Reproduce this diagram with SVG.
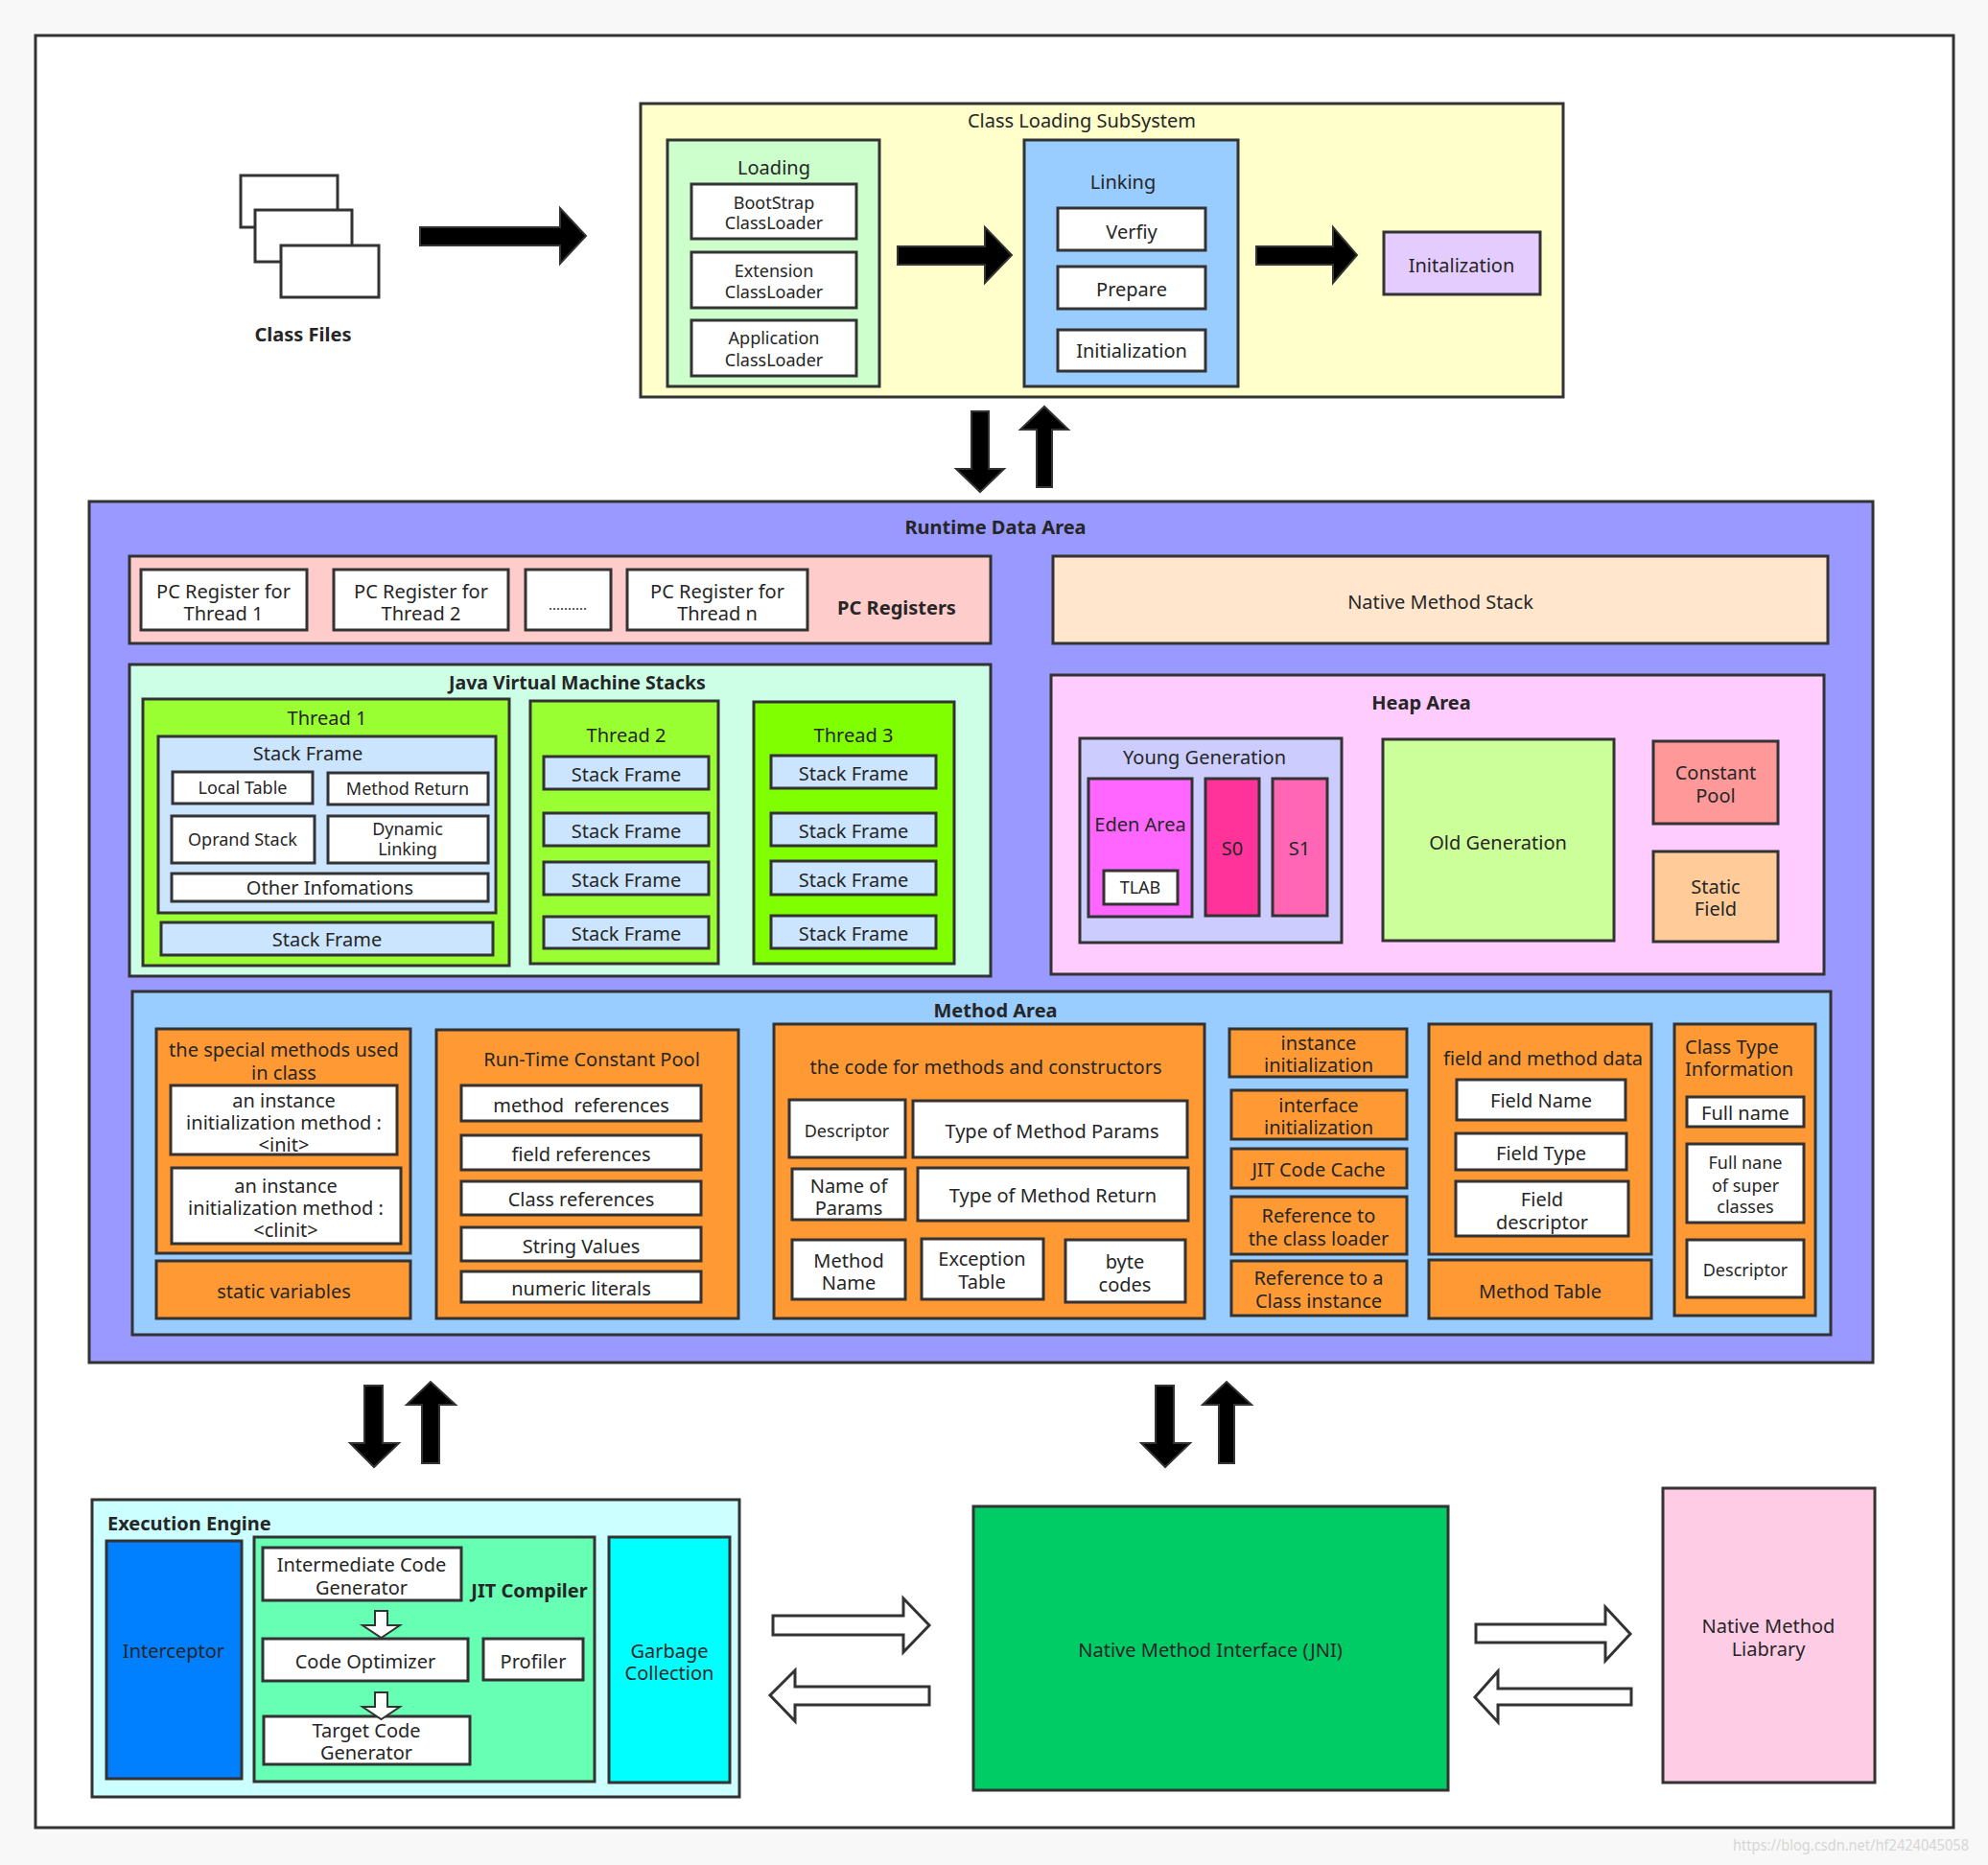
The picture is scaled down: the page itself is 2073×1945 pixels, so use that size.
<svg xmlns="http://www.w3.org/2000/svg" width="2073" height="1945" viewBox="0 0 2073 1945">
<style>
rect.b{stroke:#333;stroke-width:3}
text{font-family:"Noto Sans","Open Sans","DejaVu Sans",sans-serif;font-size:20px;fill:#262626;text-anchor:middle}
text.s{font-size:18px}
text.h{font-weight:bold}
text.l{text-anchor:start}
.ba{fill:#000;stroke:#333;stroke-width:2}
.ha{fill:#fff;stroke:#333;stroke-width:3}
.w{fill:#fff}
</style>
<rect x="0" y="0" width="2073" height="1945" fill="#f8f8f8"/>
<rect x="37" y="37" width="2000" height="1869" fill="#fff" stroke="#333" stroke-width="3"/>

<g id="class-files">
<rect class="b w" x="251" y="183" width="101" height="54"/>
<rect class="b w" x="266" y="219" width="101" height="54"/>
<rect class="b w" x="293" y="256" width="102" height="54"/>
<text class="h" x="316" y="356">Class Files</text>
</g>

<g id="class-loading-subsystem">
<rect class="b" x="668" y="108" width="962" height="306" fill="#ffffcc"/>
<text x="1128" y="133">Class Loading SubSystem</text>
</g>
<g id="loading">
<rect class="b" x="696" y="146" width="221" height="257" fill="#ccffcc"/>
<text x="807" y="182">Loading</text>
</g>
<g id="bootstrap-loader"><rect class="b w" x="721" y="192" width="172" height="57"/><text class="s" x="807" y="218">BootStrap</text><text class="s" x="807" y="239">ClassLoader</text></g>
<g id="extension-loader"><rect class="b w" x="721" y="263" width="172" height="58"/><text class="s" x="807" y="289">Extension</text><text class="s" x="807" y="311">ClassLoader</text></g>
<g id="application-loader"><rect class="b w" x="721" y="334" width="172" height="58"/><text class="s" x="807" y="359">Application</text><text class="s" x="807" y="382">ClassLoader</text></g>
<g id="linking">
<rect class="b" x="1068" y="146" width="223" height="257" fill="#99ccff"/>
<text x="1171" y="197">Linking</text>
</g>
<g id="verify"><rect class="b w" x="1103" y="217" width="154" height="44"/><text x="1180" y="249">Verfiy</text></g>
<g id="prepare"><rect class="b w" x="1103" y="278" width="154" height="44"/><text x="1180" y="309">Prepare</text></g>
<g id="link-init"><rect class="b w" x="1103" y="344" width="154" height="43"/><text x="1180" y="373">Initialization</text></g>
<g id="initalization"><rect class="b" x="1443" y="242" width="163" height="65" fill="#e5ccff"/><text x="1524" y="284">Initalization</text></g>

<g id="runtime-data-area">
<rect class="b" x="93" y="523" width="1860" height="898" fill="#9999ff"/>
<text class="h" x="1038" y="557">Runtime Data Area</text>
</g>
<g id="pc-registers">
<rect class="b" x="135" y="580" width="898" height="91" fill="#ffcccc"/>
<text class="h" x="935" y="641">PC Registers</text>
</g>
<g id="pc1"><rect class="b w" x="147" y="594" width="173" height="63"/><text x="233" y="624">PC Register for</text><text x="233" y="647">Thread 1</text></g>
<g id="pc2"><rect class="b w" x="348" y="594" width="182" height="63"/><text x="439" y="624">PC Register for</text><text x="439" y="647">Thread 2</text></g>
<g id="pc-dots"><rect class="b w" x="548" y="594" width="89" height="63"/><text x="592" y="636" style="font-size:15px">..........</text></g>
<g id="pcn"><rect class="b w" x="654" y="594" width="188" height="63"/><text x="748" y="624">PC Register for</text><text x="748" y="647">Thread n</text></g>

<g id="native-method-stack"><rect class="b" x="1098" y="580" width="808" height="91" fill="#ffe6cc"/><text x="1502" y="635">Native Method Stack</text></g>

<g id="jvm-stacks">
<rect class="b" x="135" y="693" width="898" height="325" fill="#ccffe6"/>
<text class="h" x="602" y="719" style="font-size:19.5px">Java Virtual Machine Stacks</text>
</g>
<g id="thread1">
<rect class="b" x="149" y="729" width="382" height="278" fill="#99ff33"/>
<text x="341" y="756">Thread 1</text>
<rect class="b" x="165" y="768" width="352" height="184" fill="#cce5ff"/>
<text x="321" y="793">Stack Frame</text>
<rect class="b w" x="180" y="805" width="146" height="33"/><text class="s" x="253" y="828">Local Table</text>
<rect class="b w" x="342" y="806" width="167" height="33"/><text class="s" x="425" y="829">Method Return</text>
<rect class="b w" x="179" y="851" width="149" height="49"/><text class="s" x="253" y="882">Oprand Stack</text>
<rect class="b w" x="342" y="851" width="167" height="49"/><text class="s" x="425" y="871">Dynamic</text><text class="s" x="425" y="892">Linking</text>
<rect class="b w" x="179" y="911" width="330" height="29"/><text x="344" y="933">Other Infomations</text>
<rect class="b" x="168" y="962" width="346" height="34" fill="#cce5ff"/><text x="341" y="987">Stack Frame</text>
</g>
<g id="thread2">
<rect class="b" x="553" y="731" width="196" height="274" fill="#99ff33"/>
<text x="653" y="774">Thread 2</text>
<rect class="b" x="567" y="789" width="172" height="34" fill="#cce5ff"/><text x="653" y="815">Stack Frame</text>
<rect class="b" x="567" y="848" width="172" height="34" fill="#cce5ff"/><text x="653" y="874">Stack Frame</text>
<rect class="b" x="567" y="899" width="172" height="34" fill="#cce5ff"/><text x="653" y="925">Stack Frame</text>
<rect class="b" x="567" y="956" width="172" height="33" fill="#cce5ff"/><text x="653" y="981">Stack Frame</text>
</g>
<g id="thread3">
<rect class="b" x="786" y="732" width="209" height="273" fill="#80ff00"/>
<text x="890" y="774">Thread 3</text>
<rect class="b" x="804" y="788" width="172" height="34" fill="#cce5ff"/><text x="890" y="814">Stack Frame</text>
<rect class="b" x="804" y="848" width="172" height="34" fill="#cce5ff"/><text x="890" y="874">Stack Frame</text>
<rect class="b" x="804" y="898" width="172" height="35" fill="#cce5ff"/><text x="890" y="925">Stack Frame</text>
<rect class="b" x="804" y="955" width="172" height="34" fill="#cce5ff"/><text x="890" y="981">Stack Frame</text>
</g>

<g id="heap-area">
<rect class="b" x="1096" y="704" width="806" height="312" fill="#ffccff"/>
<text class="h" x="1482" y="740">Heap Area</text>
</g>
<g id="young-generation">
<rect class="b" x="1126" y="770" width="273" height="213" fill="#ccccff"/>
<text x="1256" y="797">Young Generation</text>
</g>
<g id="eden"><rect class="b" x="1135" y="812" width="108" height="144" fill="#ff66ff"/><text x="1189" y="867">Eden Area</text></g>
<g id="tlab"><rect class="b w" x="1151" y="908" width="77" height="35"/><text class="s" x="1189" y="932">TLAB</text></g>
<g id="s0"><rect class="b" x="1257" y="812" width="56" height="143" fill="#ff3399"/><text x="1285" y="892">S0</text></g>
<g id="s1"><rect class="b" x="1327" y="812" width="57" height="143" fill="#ff66b3"/><text x="1355" y="892">S1</text></g>
<g id="old-generation"><rect class="b" x="1442" y="771" width="241" height="210" fill="#ccff99"/><text x="1562" y="886">Old Generation</text></g>
<g id="constant-pool"><rect class="b" x="1724" y="773" width="130" height="86" fill="#ff9999"/><text x="1789" y="813">Constant</text><text x="1789" y="837">Pool</text></g>
<g id="static-field"><rect class="b" x="1724" y="888" width="130" height="94" fill="#ffcc99"/><text x="1789" y="932">Static</text><text x="1789" y="955">Field</text></g>

<g id="method-area">
<rect class="b" x="138" y="1034" width="1771" height="358" fill="#99ccff"/>
<text class="h" x="1038" y="1061">Method Area</text>
</g>
<g id="special-methods">
<rect class="b" x="163" y="1073" width="265" height="234" fill="#ff9933"/>
<text x="296" y="1102">the special methods used</text><text x="296" y="1126">in class</text>
<rect class="b w" x="178" y="1132" width="236" height="72"/>
<text x="296" y="1155">an instance</text><text x="296" y="1178">initialization method :</text><text x="296" y="1201">&lt;init&gt;</text>
<rect class="b w" x="179" y="1218" width="239" height="79"/>
<text x="298" y="1244">an instance</text><text x="298" y="1267">initialization method :</text><text x="298" y="1290">&lt;clinit&gt;</text>
</g>
<g id="static-variables"><rect class="b" x="163" y="1315" width="265" height="60" fill="#ff9933"/><text x="296" y="1354">static variables</text></g>
<g id="runtime-constant-pool">
<rect class="b" x="455" y="1074" width="315" height="301" fill="#ff9933"/>
<text x="617" y="1112">Run-Time Constant Pool</text>
<rect class="b w" x="481" y="1132" width="250" height="37"/><text x="606" y="1160">method &#160;references</text>
<rect class="b w" x="481" y="1184" width="250" height="36"/><text x="606" y="1211">field references</text>
<rect class="b w" x="481" y="1232" width="250" height="35"/><text x="606" y="1258">Class references</text>
<rect class="b w" x="481" y="1280" width="250" height="35"/><text x="606" y="1307">String Values</text>
<rect class="b w" x="481" y="1326" width="250" height="32"/><text x="606" y="1351">numeric literals</text>
</g>
<g id="method-code">
<rect class="b" x="807" y="1068" width="449" height="307" fill="#ff9933"/>
<text x="1028" y="1120">the code for methods and constructors</text>
<rect class="b w" x="823" y="1147" width="121" height="60"/><text class="s" x="883" y="1186">Descriptor</text>
<rect class="b w" x="952" y="1148" width="286" height="59"/><text x="1097" y="1187">Type of Method Params</text>
<rect class="b w" x="826" y="1219" width="118" height="53"/><text x="885" y="1244">Name of</text><text x="885" y="1267">Params</text>
<rect class="b w" x="957" y="1218" width="282" height="55"/><text x="1098" y="1254">Type of Method Return</text>
<rect class="b w" x="826" y="1293" width="118" height="62"/><text x="885" y="1322">Method</text><text x="885" y="1345">Name</text>
<rect class="b w" x="961" y="1292" width="127" height="63"/><text x="1024" y="1320">Exception</text><text x="1024" y="1344">Table</text>
<rect class="b w" x="1111" y="1293" width="125" height="65"/><text x="1173" y="1323">byte</text><text x="1173" y="1347">codes</text>
</g>
<g id="instance-init"><rect class="b" x="1282" y="1073" width="185" height="50" fill="#ff9933"/><text x="1375" y="1095">instance</text><text x="1375" y="1118">initialization</text></g>
<g id="interface-init"><rect class="b" x="1284" y="1137" width="183" height="51" fill="#ff9933"/><text x="1375" y="1160">interface</text><text x="1375" y="1183">initialization</text></g>
<g id="jit-code-cache"><rect class="b" x="1284" y="1198" width="183" height="41" fill="#ff9933"/><text x="1375" y="1227">JIT Code Cache</text></g>
<g id="ref-class-loader"><rect class="b" x="1284" y="1248" width="183" height="60" fill="#ff9933"/><text x="1375" y="1275">Reference to</text><text x="1375" y="1299">the class loader</text></g>
<g id="ref-class-instance"><rect class="b" x="1284" y="1315" width="183" height="57" fill="#ff9933"/><text x="1375" y="1340">Reference to a</text><text x="1375" y="1364">Class instance</text></g>
<g id="field-method-data">
<rect class="b" x="1490" y="1068" width="232" height="240" fill="#ff9933"/>
<text x="1609" y="1111">field and method data</text>
<rect class="b w" x="1519" y="1126" width="176" height="42"/><text x="1607" y="1155">Field Name</text>
<rect class="b w" x="1518" y="1182" width="178" height="38"/><text x="1607" y="1210">Field Type</text>
<rect class="b w" x="1518" y="1232" width="180" height="57"/><text x="1608" y="1258">Field</text><text x="1608" y="1282">descriptor</text>
</g>
<g id="method-table"><rect class="b" x="1490" y="1314" width="232" height="61" fill="#ff9933"/><text x="1606" y="1354">Method Table</text></g>
<g id="class-type-info">
<rect class="b" x="1746" y="1068" width="147" height="304" fill="#ff9933"/>
<text class="l" x="1757" y="1099">Class Type</text><text class="l" x="1757" y="1122">Information</text>
<rect class="b w" x="1759" y="1144" width="122" height="31"/><text x="1820" y="1168">Full name</text>
<rect class="b w" x="1759" y="1193" width="122" height="82"/><text class="s" x="1820" y="1219">Full nane</text><text class="s" x="1820" y="1243">of super</text><text class="s" x="1820" y="1265">classes</text>
<rect class="b w" x="1759" y="1293" width="122" height="60"/><text class="s" x="1820" y="1331">Descriptor</text>
</g>

<g id="execution-engine">
<rect class="b" x="96" y="1564" width="675" height="310" fill="#ccffff"/>
<text class="h l" x="112" y="1596">Execution Engine</text>
</g>
<g id="interceptor"><rect class="b" x="111" y="1607" width="141" height="248" fill="#007fff"/><text x="181" y="1729">Interceptor</text></g>
<g id="jit-compiler">
<rect class="b" x="265" y="1603" width="355" height="255" fill="#66ffb3"/>
<text class="h" x="552" y="1666">JIT Compiler</text>
<rect class="b w" x="274" y="1614" width="207" height="55"/><text x="377" y="1639">Intermediate Code</text><text x="377" y="1663">Generator</text>
<rect class="b w" x="274" y="1709" width="214" height="44"/><text x="381" y="1740">Code Optimizer</text>
<rect class="b w" x="504" y="1709" width="104" height="43"/><text x="556" y="1740">Profiler</text>
<rect class="b w" x="275" y="1790" width="215" height="50"/><text x="382" y="1812">Target Code</text><text x="382" y="1835">Generator</text>
<polygon class="ha" style="stroke-width:2" points="391,1680 404,1680 404,1695 417,1695 397.5,1708 378,1695 391,1695"/>
<polygon class="ha" style="stroke-width:2" points="391,1765 404,1765 404,1780 417,1780 397.5,1793 378,1780 391,1780"/>
</g>
<g id="garbage-collection"><rect class="b" x="635" y="1603" width="126" height="256" fill="#00ffff"/><text x="698" y="1729">Garbage</text><text x="698" y="1752">Collection</text></g>
<g id="jni"><rect class="b" x="1015" y="1571" width="495" height="296" fill="#00cc66"/><text x="1262" y="1728">Native Method Interface (JNI)</text></g>
<g id="native-method-library"><rect class="b" x="1734" y="1552" width="221" height="307" fill="#ffcce6"/><text x="1844" y="1703">Native Method</text><text x="1844" y="1727">Liabrary</text></g>

<g id="connectors">
<polygon class="ba" points="438,237 584,237 584,217 611,246 584,275 584,256 438,256"/>
<polygon class="ba" points="936,257 1027,257 1027,237 1055,266 1027,295 1027,276 936,276"/>
<polygon class="ba" points="1310,257 1390,257 1390,237 1415,266 1390,295 1390,276 1310,276"/>
<polygon class="ba" points="1013,429 1031,429 1031,489 1047,489 1022,513 997,489 1013,489"/>
<polygon class="ba" points="1081,508 1097,508 1097,448 1114,448 1089,424 1064,448 1081,448"/>
<polygon class="ba" points="380,1445 399,1445 399,1505 416,1505 390,1530 365,1505 380,1505"/>
<polygon class="ba" points="440,1526 458,1526 458,1465 475,1465 449,1441 424,1465 440,1465"/>
<polygon class="ba" points="1205,1445 1224,1445 1224,1505 1241,1505 1215,1530 1190,1505 1205,1505"/>
<polygon class="ba" points="1271,1526 1287,1526 1287,1465 1305,1465 1279,1441 1254,1465 1271,1465"/>
<polygon class="ha" points="806,1685 942,1685 942,1667 969,1695 942,1723 942,1705 806,1705"/>
<polygon class="ha" points="969,1759 829,1759 829,1742 803,1768 829,1795 829,1778 969,1778"/>
<polygon class="ha" points="1539,1694 1674,1694 1674,1676 1700,1704 1674,1732 1674,1713 1539,1713"/>
<polygon class="ha" points="1701,1761 1562,1761 1562,1743 1538,1770 1562,1796 1562,1778 1701,1778"/>
</g>

<text x="1930" y="1930" style="font-size:16px;fill:#d6d6d6" textLength="246" lengthAdjust="spacingAndGlyphs">https://blog.csdn.net/hf2424045058</text>
</svg>
